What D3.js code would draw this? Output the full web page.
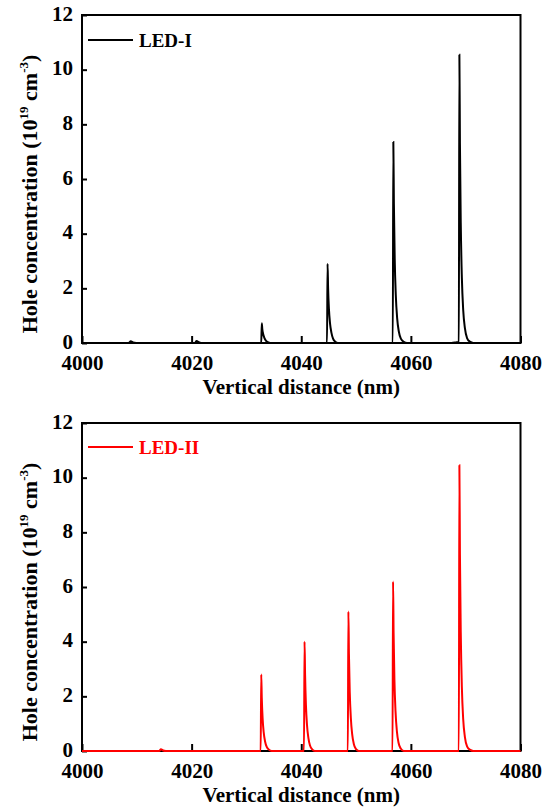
<!DOCTYPE html>
<html><head><meta charset="utf-8">
<script src="https://cdn.jsdelivr.net/npm/d3@7"></script>
<style>body{margin:0;background:#fff}svg{display:block}</style>
</head><body>
<svg id="c" width="551" height="807"></svg>
<script>
const xTicks = [4000, 4020, 4040, 4060, 4080];
const yTicks = [0, 2, 4, 6, 8, 10, 12];
const seriesNames = ["LED-I", "LED-II"];
const seriesColors = ["#000000", "#ff0000"];
// LED-I hole concentration (x: nm, y: 1e19 cm^-3)
const ledIx = [4000,4008.5,4008.9,4009.3,4009.9,4020.6,4020.9,4021.4,4022.0,
 4032.7,4032.8,4032.9,4033.05,4033.25,4033.5,4033.9,4034.4,
 4044.7,4044.8,4044.9,4045.05,4045.25,4045.5,4045.8,4046.2,4046.7,
 4056.7,4056.8,4056.9,4057.05,4057.25,4057.5,4057.8,4058.2,4058.7,4059.3,
 4067.4,4068.2,4068.75,4068.85,4068.95,4069.1,4069.3,4069.55,4069.85,4070.25,4070.75,4071.4,4080];
const ledIy = [0,0,0.06,0.02,0,0,0.07,0.02,0,
 0,0.72,0.5,0.33,0.2,0.1,0.03,0,
 0,2.9,2.0,1.25,0.72,0.38,0.16,0.05,0,
 0,7.35,5.1,3.1,1.75,0.9,0.42,0.15,0.04,0,
 0,0.02,0.04,10.55,7.3,4.4,2.4,1.2,0.55,0.18,0.05,0,0];
// LED-II
const ledIIx = [4000,4014.1,4014.4,4014.8,4015.3,
 4032.6,4032.7,4032.8,4032.95,4033.15,4033.4,4033.7,4034.1,4034.6,
 4040.5,4040.6,4040.7,4040.85,4041.05,4041.3,4041.6,4042.0,4042.5,
 4048.5,4048.6,4048.7,4048.85,4049.05,4049.3,4049.6,4050.0,4050.5,
 4056.65,4056.75,4056.85,4057.0,4057.2,4057.45,4057.75,4058.15,4058.7,
 4068.75,4068.85,4068.95,4069.1,4069.3,4069.55,4069.85,4070.25,4070.75,4071.4,4080];
const ledIIy = [0,0,0.06,0.02,0,
 0,2.8,1.95,1.2,0.68,0.35,0.15,0.05,0,
 0,4.0,2.8,1.7,0.95,0.48,0.2,0.06,0,
 0,5.1,3.55,2.15,1.2,0.6,0.25,0.07,0,
 0,6.2,4.3,2.6,1.45,0.72,0.3,0.09,0,
 0,10.45,7.2,4.35,2.35,1.15,0.52,0.17,0.05,0,0];

const svg = d3.select("#c");
const panels = [
  {top: 15, bottom: 343, xs: ledIx, ys: ledIy, si: 0, legY: 40},
  {top: 423, bottom: 751, xs: ledIIx, ys: ledIIy, si: 1, legY: 447}
];
const L = 82, R = 520.5;
const font = "Liberation Serif";

panels.forEach(p => {
  const x = d3.scaleLinear().domain([4000, 4080]).range([L, R]);
  const y = d3.scaleLinear().domain([0, 12]).range([p.bottom, p.top]);
  const g = svg.append("g");
  const color = seriesColors[p.si];

  // ticks (inward)
  const xa = g.append("g").attr("transform", `translate(0,${p.bottom})`)
    .call(d3.axisBottom(x).tickValues(xTicks).tickSizeInner(-7).tickSizeOuter(0).tickPadding(12).tickFormat(d3.format("d")));
  xa.select(".domain").remove();
  xa.selectAll("line").attr("stroke", "#000").attr("stroke-width", 2);
  xa.selectAll("text").style("font-family", font).style("font-weight", "bold").style("font-size", "21px").attr("fill", "#000");

  const ya = g.append("g").attr("transform", `translate(${L},0)`)
    .call(d3.axisLeft(y).tickValues(yTicks).tickSizeInner(-5).tickSizeOuter(0).tickPadding(9));
  ya.select(".domain").remove();
  ya.selectAll("line").attr("stroke", "#000").attr("stroke-width", 2);
  ya.selectAll("text").style("font-family", font).style("font-weight", "bold").style("font-size", "21px").attr("fill", "#000").attr("dy", "0.25em");

  // frame
  g.append("rect").attr("x", L).attr("y", p.top).attr("width", R - L).attr("height", p.bottom - p.top)
    .attr("fill", "none").attr("stroke", "#000").attr("stroke-width", 2);

  // line
  const pts = p.xs.map((v, i) => [v, p.ys[i]]);
  g.append("path").datum(pts)
    .attr("d", d3.line().x(d => x(d[0])).y(d => y(d[1])).curve(d3.curveMonotoneX))
    .attr("fill", "none").attr("stroke", color).attr("stroke-width", 2);

  // legend
  g.append("line").attr("x1", 88).attr("x2", 133).attr("y1", p.legY).attr("y2", p.legY)
    .attr("stroke", color).attr("stroke-width", 2);
  g.append("text").attr("x", 139).attr("y", p.legY + 7).text(seriesNames[p.si])
    .style("font-family", font).style("font-weight", "bold").style("font-size", "19px").attr("fill", color);

  // x title
  g.append("text").attr("x", (L + R) / 2).attr("y", p.bottom + 51).attr("text-anchor", "middle")
    .style("font-family", font).style("font-weight", "bold").style("font-size", "21px").text("Vertical distance (nm)");

  // y title
  const yt = g.append("text").attr("transform", `translate(37,${(p.top + p.bottom) / 2 + 15}) rotate(-90)`)
    .attr("text-anchor", "middle").style("font-family", font).style("font-weight", "bold").style("font-size", "22px");
  yt.append("tspan").text("Hole concentration (10");
  yt.append("tspan").text("19").style("font-size", "13px").attr("dy", -9);
  yt.append("tspan").text(" cm").attr("dy", 9);
  yt.append("tspan").text("-3").style("font-size", "13px").attr("dy", -9);
  yt.append("tspan").text(")").attr("dy", 9);
});
</script>
</body></html>
